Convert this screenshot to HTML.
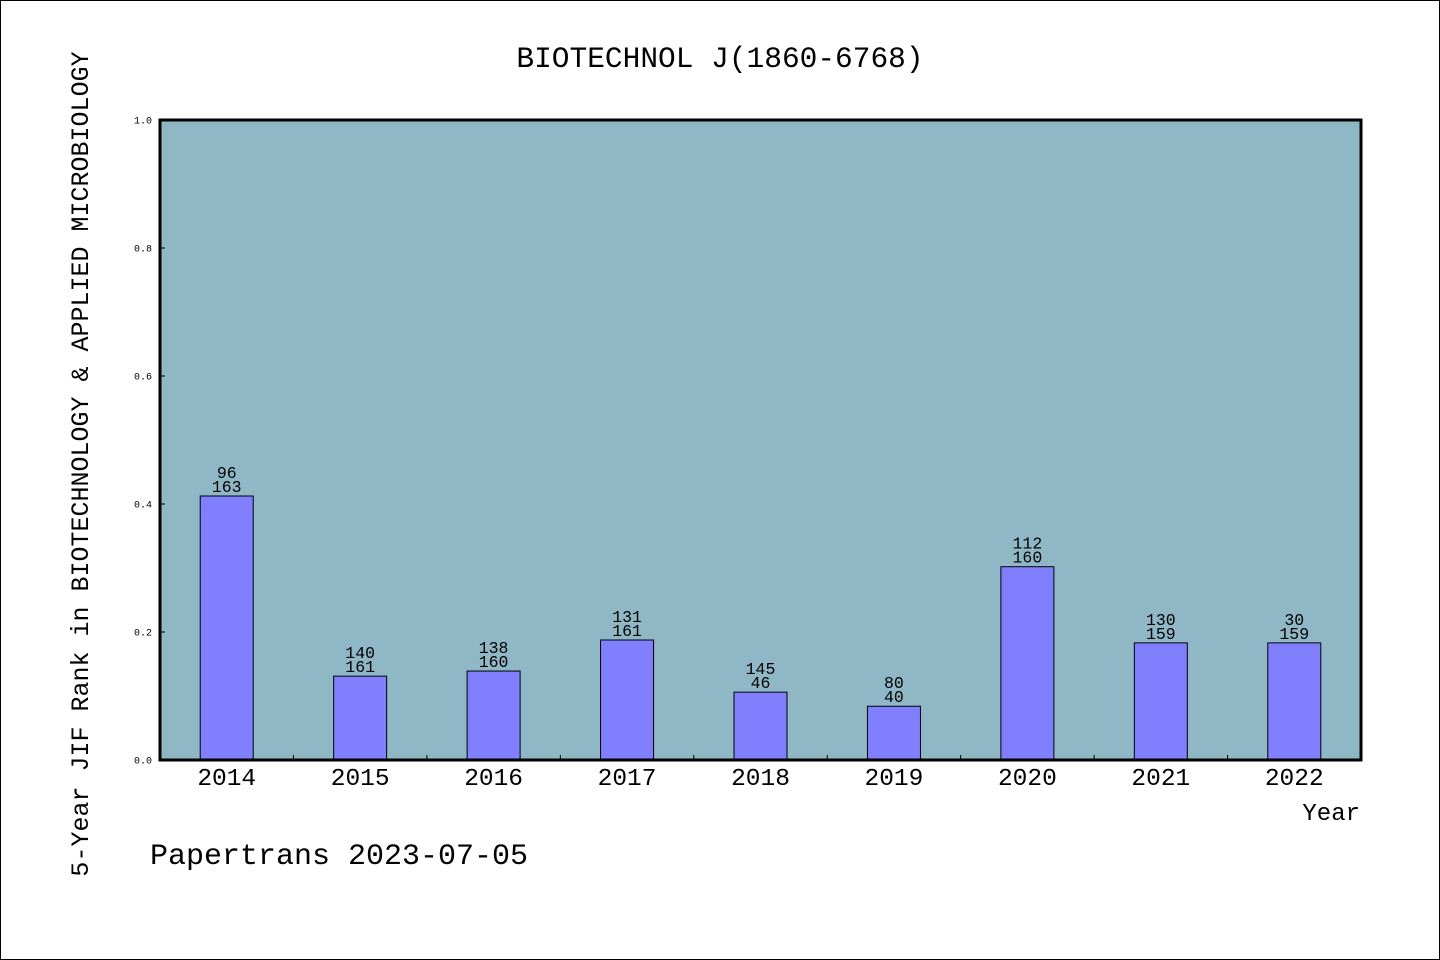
<!DOCTYPE html>
<html><head><meta charset="utf-8"><style>
html,body{margin:0;padding:0;background:#fff}
svg{display:block}
text{font-family:"Liberation Mono","Noto Sans CJK SC",monospace;fill:#000}
</style></head><body>
<svg id="chart" width="1440" height="960" viewBox="0 0 1440 960">
<rect x="0.5" y="0.5" width="1439" height="959" fill="#fff" stroke="#000" stroke-width="1"/>
<text x="720" y="67" font-size="29.5" text-anchor="middle">BIOTECHNOL J(1860-6768)</text>
<rect x="160" y="120" width="1201" height="640" fill="#8fb7c6"/>
<g id="yaxis"></g>
<g id="bars"></g>
<g id="xaxis"></g>
<rect x="160" y="120" width="1201" height="640" fill="none" stroke="#000" stroke-width="3"/>
<text x="1360" y="820" font-size="24" text-anchor="end">Year</text>
<text transform="translate(88,464) rotate(-90)" font-size="25" text-anchor="middle">5-Year JIF Rank in BIOTECHNOLOGY &amp; APPLIED MICROBIOLOGY</text>
<text x="150" y="864" font-size="30">Papertrans 2023-07-05</text>
</svg>
<script>
const categories=["2014","2015","2016","2017","2018","2019","2020","2021","2022"];
const values=[0.4125,0.131,0.139,0.1875,0.106,0.084,0.302,0.183,0.183];
const topLabels=["96","140","138","131","145","80","112","130","30"];
const bottomLabels=["163","161","160","161","46","40","160","159","159"];
const yTicks=[0,0.2,0.4,0.6,0.8,1.0];
const yTickLabels=["0.0","0.2","0.4","0.6","0.8","1.0"];

const NS="http://www.w3.org/2000/svg";
const X0=160,X1=1361,Y0=760,Y1=120;
const band=(X1-X0)/categories.length;
function xScale(i){return X0+band*(i+0.5);}
function yScale(v){return Y0-(v-0)/(1-0)*(Y0-Y1);}
function mk(tag,attrs,parent){const e=document.createElementNS(NS,tag);for(const k in attrs)e.setAttribute(k,attrs[k]);parent.appendChild(e);return e;}

const ya=document.getElementById('yaxis');
yTicks.forEach((t,i)=>{
  const y=yScale(t);
  const l=mk('line',{x1:X0,x2:X0+5,y1:y,y2:y,stroke:'#000','stroke-width':1},ya);
  
  
  const tx=mk('text',{x:X0-8,y:y+3.5,'font-size':10,'text-anchor':'end'},ya);
  tx.textContent=yTickLabels[i];
  
  
});

const bg=document.getElementById('bars');
const bw=53;
values.forEach((v,i)=>{
  const cx=xScale(i),y=yScale(v);
  const r=mk('rect',{x:cx-bw/2,y:y,width:bw,height:Y0-y,fill:'#8080ff',stroke:'#000','stroke-width':1},bg);
  
  
  const t1=mk('text',{x:cx,y:y-18,'font-size':16.5,'text-anchor':'middle'},bg);
  t1.textContent=topLabels[i];
  
  
  const t2=mk('text',{x:cx,y:y-4,'font-size':16.5,'text-anchor':'middle'},bg);
  t2.textContent=bottomLabels[i];
  
  
});

const xa=document.getElementById('xaxis');
categories.forEach((c,i)=>{
  if(i>0){
    const bx=X0+band*i;
    const l=mk('line',{x1:bx,x2:bx,y1:Y0,y2:Y0-5,stroke:'#000','stroke-width':1},xa);
    
    
  }
  const t=mk('text',{x:xScale(i),y:785,'font-size':24.5,'text-anchor':'middle'},xa);
  t.textContent=c;
  
  
});
</script>
</body></html>
